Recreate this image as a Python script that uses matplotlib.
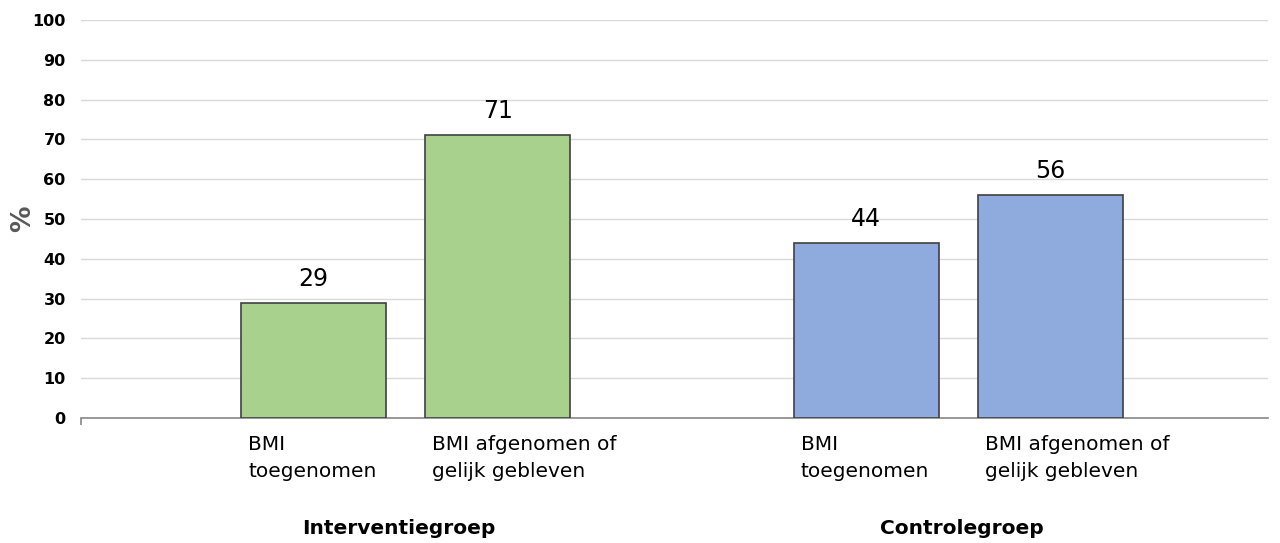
import matplotlib.pyplot as plt

# percentages per group
groups = ['Interventiegroep', 'Controlegroep']
categories = ['BMI\ntoegenomen', 'BMI afgenomen of\ngelijk gebleven']
interventie = [29, 71]
controle = [44, 56]
colors = ['#A9D18E', '#8FAADC']

fig = plt.figure(figsize=(12.8, 5.43), dpi=100)
ax = fig.add_axes([81 / 1280, 125 / 543, 1187 / 1280, 398 / 543])

positions = [[0.392, 0.702], [1.323, 1.633]]
width = 0.244
for gi, vals in enumerate([interventie, controle]):
    bars = ax.bar(positions[gi], vals, width=width, color=colors[gi],
                  edgecolor='#404040', linewidth=1.2, zorder=3)
    for b, v in zip(bars, vals):
        ax.text(b.get_x() + b.get_width() / 2, v + 3, str(v),
                ha='center', va='bottom', fontsize=17, color='black')
    for x, lab in zip(positions[gi], categories):
        ax.text(x - width / 2 + 0.012, -4.3, lab, ha='left', va='top',
                fontsize=14.5, color='black', linespacing=1.55)

ax.text(0.535, -25.3, groups[0], ha='center', va='top', fontsize=14.5, fontweight='bold')
ax.text(1.485, -25.3, groups[1], ha='center', va='top', fontsize=14.5, fontweight='bold')

ax.set_xlim(0, 2)
ax.set_ylim(0, 100)
ax.set_yticks(range(0, 101, 10))
ax.set_yticklabels([str(t) for t in range(0, 101, 10)], fontsize=11.5, fontweight='bold')
ax.set_xticks([0])
ax.set_xticklabels([''])
ax.tick_params(axis='y', length=0, pad=11)
ax.tick_params(axis='x', length=5, color='#888888', width=1.2)
ax.grid(axis='y', color='#D9D9D9', linewidth=1, zorder=0)
for s in ['top', 'right', 'left']:
    ax.spines[s].set_visible(False)
ax.spines['bottom'].set_color('#888888')
ax.spines['bottom'].set_linewidth(1.2)
ax.set_ylabel('%', fontsize=19, fontweight='bold', color='#595959')
ax.yaxis.set_label_coords(-0.038, 0.5)

fig.savefig('out.png', dpi=100)
